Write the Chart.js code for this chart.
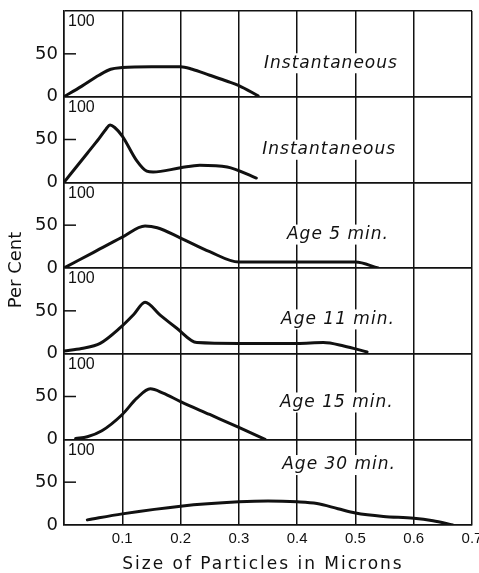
<!DOCTYPE html>
<html>
<head>
<meta charset="utf-8">
<script src="https://cdn.jsdelivr.net/npm/chart.js@4.4.1/dist/chart.umd.min.js"></script>
<style>
  html, body { margin: 0; padding: 0; background: #fff; }
  canvas { display: block; }
</style>
</head>
<body>
<canvas id="chart" width="479" height="573"></canvas>
<script>
// 各面板的标签（从上到下）
const panelLabels = ['Instantaneous', 'Instantaneous', 'Age 5 min.', 'Age 11 min.', 'Age 15 min.', 'Age 30 min.'];

// 粒径 (microns) 与百分比
const size1 = [0, 0.03, 0.06, 0.08, 0.1, 0.15, 0.2, 0.22, 0.25, 0.28, 0.3, 0.333];
const pct1  = [0, 12, 25, 32, 34, 35, 35, 32, 25, 18, 13, 1];

const size2 = [0, 0.02, 0.04, 0.06, 0.072, 0.079, 0.087, 0.1, 0.125, 0.142, 0.153, 0.2, 0.233, 0.28, 0.33];
const pct2  = [0, 17, 34, 51, 62, 67, 64, 54, 25, 13, 12, 17, 20, 18, 5];

const size3 = [0, 0.05, 0.1, 0.139, 0.16, 0.2, 0.25, 0.3, 0.35, 0.4, 0.45, 0.5, 0.539];
const pct3  = [0, 18, 36, 49, 47, 35, 19, 7, 7, 7, 7, 7, 0];

const size4 = [0, 0.03, 0.062, 0.096, 0.12, 0.139, 0.165, 0.193, 0.228, 0.3, 0.4, 0.445, 0.48, 0.52];
const pct4  = [3, 6, 12, 30, 46, 60, 45, 30, 13, 12, 12, 13, 9, 2];

const size5 = [0.02, 0.04, 0.065, 0.1, 0.125, 0.148, 0.17, 0.2, 0.25, 0.3, 0.345];
const pct5  = [1, 3, 10, 29, 48, 59, 54, 44, 29, 14, 0];

const size6 = [0.04, 0.1, 0.2, 0.3, 0.35, 0.4, 0.434, 0.47, 0.5, 0.548, 0.6, 0.633, 0.667];
const pct6  = [6, 13, 22, 27, 28, 27, 25, 19, 14, 10, 8, 5, 0];

const sizes = [size1, size2, size3, size4, size5, size6];
const pcts = [pct1, pct2, pct3, pct4, pct5, pct6];

const ink = '#111';

// 数据集
const datasets = pcts.map((pct, i) => ({
    label: panelLabels[i],
    data: pct.map((v, j) => ({ x: sizes[i][j], y: v })),
    yAxisID: 'y' + i,
    borderColor: ink,
    borderWidth: 3,
    pointRadius: 0,
    fill: false,
    cubicInterpolationMode: 'monotone',
    borderCapStyle: 'round'
}));

// 坐标轴：x 轴 + 六个堆叠的 y 轴
const scales = {
    x: {
        type: 'linear',
        min: 0,
        max: 0.7,
        afterFit: s => {
            s.height = 48;
            s.paddingLeft = 0;
            s.paddingRight = 0;
        },
        border: { display: true, color: ink, width: 1.5 },
        grid: { color: ink, lineWidth: 1.5, drawTicks: false },
        ticks: {
            stepSize: 0.1,
            padding: 5,
            color: ink,
            autoSkip: false,
            maxRotation: 0,
            font: { family: 'Liberation Sans', size: 15 },
            callback: v => v === 0 ? '' : v.toFixed(1)
        }
    }
};

panelLabels.forEach((_, i) => {
    scales['y' + i] = {
        type: 'linear',
        position: 'left',
        stack: 'panels',
        weight: panelLabels.length - i,
        min: 0,
        max: 100,
        afterFit: s => {
            s.width = 38;
            s.paddingTop = 0;
            s.paddingBottom = 0;
        },
        border: { display: true, color: ink, width: 1.5 },
        grid: {
            color: c => c.tick && c.tick.value === 50 ? 'rgba(0,0,0,0)' : ink,
            lineWidth: 1.5,
            drawTicks: false
        },
        ticks: {
            stepSize: 50,
            maxTicksLimit: 3,
            autoSkip: false,
            padding: 6,
            color: ink,
            font: { family: 'DejaVu Sans', size: 18 },
            callback: v => v === 100 ? '' : v
        }
    };
});

// 标注位置（x 为粒径，y 为百分比）
const noteAt = [[0.458, 39], [0.455, 38], [0.47, 39], [0.47, 40], [0.468, 43], [0.472, 70]];

const paperPlugin = {
    id: 'paper',
    beforeDraw: (chart) => {
        const ctx = chart.ctx;
        ctx.save();
        ctx.fillStyle = '#fff';
        ctx.fillRect(0, 0, chart.width, chart.height);
        ctx.restore();
    },
    beforeDatasetsDraw: (chart) => {
        const ctx = chart.ctx;
        const area = chart.chartArea;
        const xs = chart.scales.x;
        ctx.save();
        ctx.fillStyle = ink;

        panelLabels.forEach((text, i) => {
            const ys = chart.scales['y' + i];

            // 50 处向内的刻度短线
            const y50 = ys.getPixelForValue(50);
            ctx.strokeStyle = ink;
            ctx.lineWidth = 1.5;
            ctx.beginPath();
            ctx.moveTo(area.left, y50);
            ctx.lineTo(area.left + 12, y50);
            ctx.stroke();

            // 面板内的 "100"
            ctx.font = '16px "Liberation Sans"';
            ctx.textAlign = 'left';
            ctx.textBaseline = 'top';
            ctx.fillText('100', area.left + 4, ys.getPixelForValue(100) + 3);

            // 斜体标注，背景留白
            ctx.font = 'italic 17px "DejaVu Sans"';
            ctx.letterSpacing = '1px';
            const w = ctx.measureText(text).width;
            const cx = xs.getPixelForValue(noteAt[i][0]);
            const cy = ys.getPixelForValue(noteAt[i][1]);
            ctx.fillStyle = '#fff';
            ctx.fillRect(cx - w / 2 - 3, cy - 10, w + 6, 20);
            ctx.fillStyle = ink;
            ctx.textAlign = 'center';
            ctx.textBaseline = 'middle';
            ctx.fillText(text, cx, cy);
            ctx.letterSpacing = '0px';
        });

        // y 轴标题
        ctx.save();
        ctx.translate(16, (area.top + area.bottom) / 2 + 2);
        ctx.rotate(-Math.PI / 2);
        ctx.font = '18px "DejaVu Sans"';
        ctx.textAlign = 'center';
        ctx.textBaseline = 'middle';
        ctx.fillText('Per Cent', 0, 0);
        ctx.restore();

        // x 轴标题
        ctx.font = '17px "DejaVu Sans"';
        ctx.letterSpacing = '2px';
        ctx.textAlign = 'center';
        ctx.textBaseline = 'middle';
        ctx.fillText('Size of Particles in Microns', (area.left + area.right) / 2 - 5, 565);
        ctx.restore();
    }
};

new Chart(document.getElementById('chart').getContext('2d'), {
    type: 'line',
    data: { datasets },
    options: {
        responsive: false,
        animation: false,
        events: [],
        layout: { autoPadding: false, padding: { left: 26, right: 7, top: 11, bottom: 0 } },
        plugins: {
            legend: { display: false },
            tooltip: { enabled: false }
        },
        scales
    },
    plugins: [paperPlugin]
});
</script>
</body>
</html>
